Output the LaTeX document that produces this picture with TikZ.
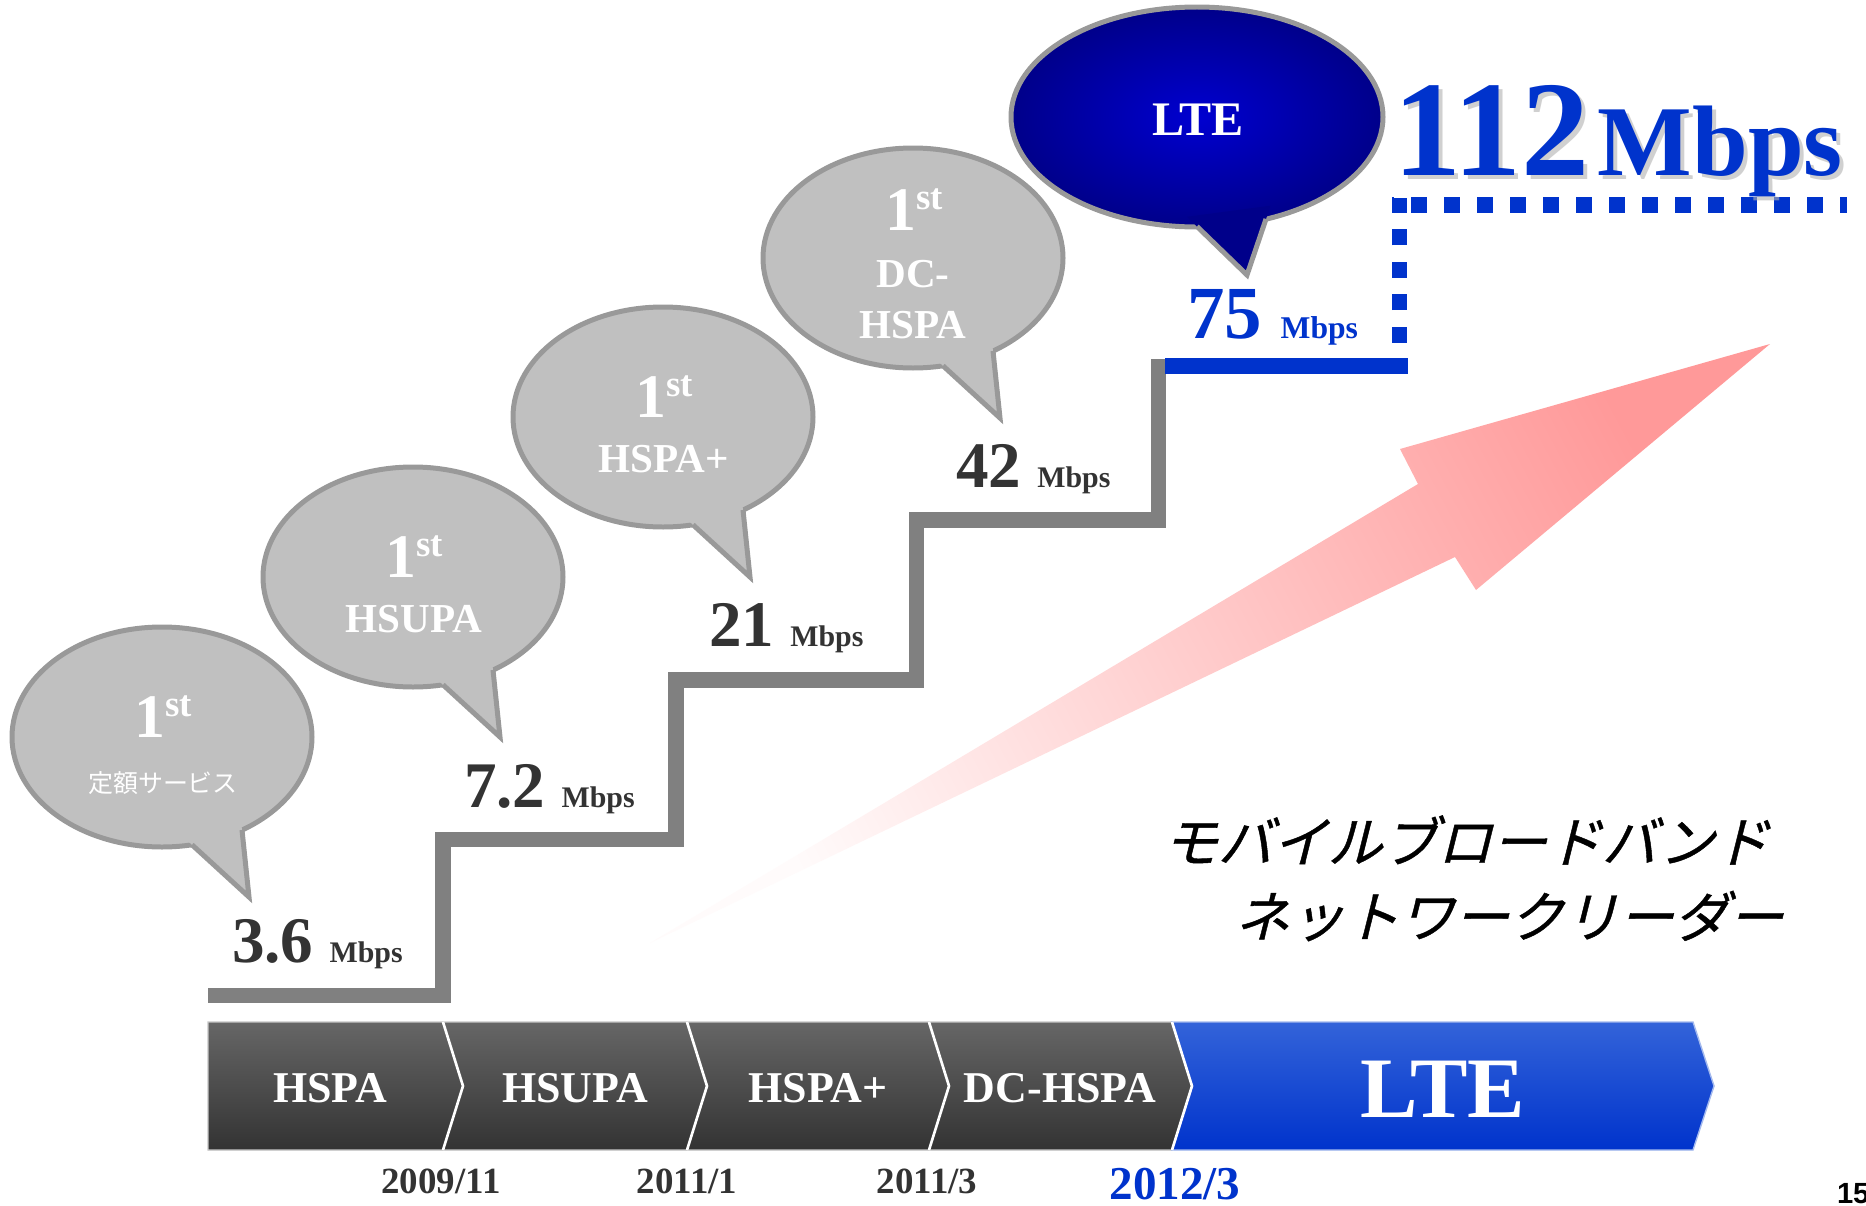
\documentclass[tikz,border=0pt]{standalone}
\usepackage{fontspec}
\setmainfont{Liberation Serif}
\newfontfamily\jpslant[FakeSlant=0.25, FakeBold=0.8]{Noto Sans CJK JP}
\newfontfamily\jpplain{Noto Sans CJK JP}
\newfontfamily\pagefont{Liberation Sans}
\newcommand\setfs[1]{\fontsize{#1}{#1}\selectfont}

\definecolor{stairgray}{HTML}{808080}
\definecolor{bubblefill}{HTML}{C0C0C0}
\definecolor{bubbleline}{HTML}{999999}
\definecolor{ltblue}{HTML}{0033CC}
\definecolor{darktext}{HTML}{333333}
\definecolor{navyA}{HTML}{00008A}
\definecolor{blueB}{HTML}{0000D0}
\definecolor{pinkA}{HTML}{FF9999}
\definecolor{barTop}{HTML}{666666}
\definecolor{barBot}{HTML}{333333}
\definecolor{lteTop}{HTML}{3363D9}
\definecolor{lteBot}{HTML}{0033CC}

\tikzset{
  every node/.style={inner sep=0pt, outer sep=0pt},
  bubshape/.style={fill=bubblefill, draw=bubbleline, line width=1.42pt},
  bubedge/.style={draw=bubbleline, line width=1.42pt, line join=miter, miter limit=20},
  bubtxt/.style={text=white, font=\bfseries, anchor=base},
  speed/.style={text=darktext, font=\bfseries, anchor=base west},
  stair/.style={draw=stairgray, line width=4.27pt, line join=miter},
  blueline/.style={draw=ltblue, line width=4.27pt},
  bluedotv/.style={draw=ltblue, line width=4.27pt, dash pattern=on 4.55pt off 4.67pt, dash phase=4.55pt},
  bluedoth/.style={draw=ltblue, line width=4.27pt, dash pattern=on 4.55pt off 4.84pt, dash phase=3.98pt},
  sepline/.style={draw=white, line width=0.75pt},
  bartxt/.style={text=white, font=\bfseries\setfs{12.5}, anchor=base},
  datetxt/.style={text=darktext, font=\bfseries\setfs{10.5}, anchor=base},
  jptxt/.style={text=black, font=\jpslant\setfs{15.6}, anchor=center},
}

\newcommand\graybubble[1]{%
  \begin{scope}[shift={(#1)}]
    \filldraw[bubshape] (0,0) ellipse [x radius=150, y radius=110];
    \fill[bubblefill] (19.7,98.4) -- (87,160) -- (78.5,79.1) -- cycle;
    \draw[bubedge] (30,107.8) -- (87,160) -- (80,93);
  \end{scope}}

\begin{document}
\begin{tikzpicture}[x=0.01cm, y=-0.01cm]
\useasboundingbox (0,0) rectangle (1866,1206);
\fill[white] (0,0) rectangle (1866,1206);

% big pink arrow
\shade[top color=pinkA, middle color=pinkA!50!white, bottom color=pinkA!4!white, shading angle=-62]
  (650,943) -- (1455,557) -- (1476,590) -- (1770,344) -- (1400,449) -- (1418,484) -- cycle;

% staircase
\draw[stair] (208,995) -- (443,995) -- (443,839) -- (676,839) -- (676,680)
  -- (916,680) -- (916,520) -- (1158,520) -- (1158,359);
\draw[blueline] (1165,366) -- (1408,366);
\draw[bluedotv] (1399,359) -- (1399,198);
\draw[bluedoth] (1392,205) -- (1847,205);

% gray bubbles
\graybubble{162,737}
\graybubble{413,577}
\graybubble{663,417}
\graybubble{913,258}

% LTE bubble
\begin{scope}[shift={(1197,117)}]
  \shadedraw[inner color=blueB, outer color=navyA, draw=bubbleline, line width=1.42pt]
    (0,0) ellipse [x radius=186, y radius=110];
  \fill[navyA] (-10.1,99.8) -- (50,158) -- (73.5,88.7) -- cycle;
  \draw[bubedge] (0,109.5) -- (50,158) -- (69,102);
\end{scope}

% bubble texts
\node[bubtxt] (b1a) at (163,737) {\setfs{17.6}1\raisebox{5.7pt}{\setfs{10.5}st}};
\node[text=white, anchor=center, font=\jpplain\setfs{7.1}] (b1b) at (163,783) {定額サービス};
\node[bubtxt] (b2a) at (414,577) {\setfs{17.6}1\raisebox{5.7pt}{\setfs{10.5}st}};
\node[bubtxt] (b2b) at (414,632) {\setfs{11.7}HSUPA};
\node[bubtxt] (b3a) at (664,417) {\setfs{17.6}1\raisebox{5.7pt}{\setfs{10.5}st}};
\node[bubtxt] (b3b) at (664,472) {\setfs{11.7}HSPA+};
\node[bubtxt] (b4a) at (914,230) {\setfs{17.6}1\raisebox{5.7pt}{\setfs{10.5}st}};
\node[bubtxt] (b4b) at (913,287) {\setfs{11.7}DC-};
\node[bubtxt] (b4c) at (913,338) {\setfs{11.7}HSPA};
\node[bubtxt] (b5a) at (1198,135) {\setfs{13.7}LTE};

% speed labels
\node[speed] (s1) at (232,962) {\setfs{18.5}3.6 {\setfs{8.5}Mbps}};
\node[speed] (s2) at (464,807) {\setfs{18.5}7.2 {\setfs{8.5}Mbps}};
\node[speed] (s3) at (709,646) {\setfs{18.5}21 {\setfs{8.5}Mbps}};
\node[speed] (s4) at (956,487) {\setfs{18.5}42 {\setfs{8.5}Mbps}};
\node[speed, text=ltblue] (s5) at (1187,338) {\setfs{21.3}75 {\setfs{9}Mbps}};

% 112 Mbps with soft shadow
\node[speed, text=black!30, opacity=0.6] (s6sh) at (1397,179) {\setfs{38.7}112\hspace{2.3pt}{\setfs{28.5}Mbps}};
\node[speed, text=ltblue] (s6) at (1393,175) {\setfs{38.7}112\hspace{2.3pt}{\setfs{28.5}Mbps}};

% japanese slogan
\node[jptxt] (jp1) at (1466,840) {モバイルブロードバンド};
\node[jptxt] (jp2) at (1509,916) {ネットワークリーダー};

% timeline bar
\shadedraw[top color=barTop, bottom color=barBot, draw=gray!45, line width=0.4pt]
  (208,1022) -- (1172,1022) -- (1192,1086) -- (1172,1150) -- (208,1150) -- cycle;
\shadedraw[top color=lteTop, bottom color=lteBot, draw=lteTop!45!white, line width=0.4pt]
  (1172,1022) -- (1693,1022) -- (1714,1086) -- (1693,1150) -- (1172,1150) -- (1192,1086) -- cycle;
\foreach \b in {443,687,929,1172} {
  \draw[sepline] (\b,1022) -- (\b+20,1086) -- (\b,1150);
}
\node[bartxt] (t1) at (330,1102) {HSPA};
\node[bartxt] (t2) at (575,1102) {HSUPA};
\node[bartxt] (t3) at (818,1102) {HSPA+};
\node[bartxt] (t4) at (1060,1102) {DC-HSPA};
\node[bartxt, font=\bfseries\setfs{24.5}] (t5) at (1443,1117) {LTE};

% dates
\node[datetxt] (d1) at (441,1193) {2009/11};
\node[datetxt] (d2) at (687,1193) {2011/1};
\node[datetxt] (d3) at (927,1193) {2011/3};
\node[datetxt, text=ltblue, font=\bfseries\setfs{13.4}] (d4) at (1175,1199) {2012/3};

% page number
\node[anchor=base west, text=black, font=\pagefont\bfseries\setfs{8.3}] (pg) at (1837,1203) {15};
\end{tikzpicture}
\end{document}
